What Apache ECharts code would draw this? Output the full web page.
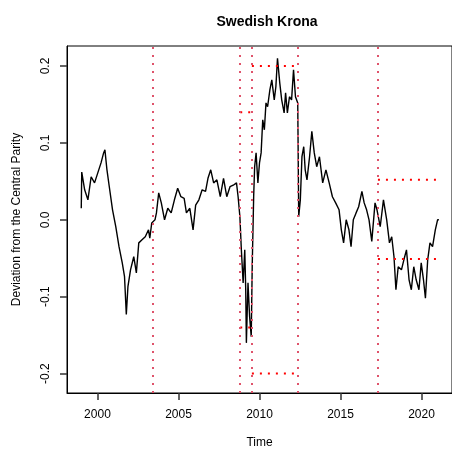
<!DOCTYPE html>
<html>
<head>
<meta charset="utf-8">
<script src="https://cdn.jsdelivr.net/npm/echarts@6/dist/echarts.min.js"></script>
<style>
* { padding: 0; margin: 0; }
body { background: #fff; }
</style>
</head>
<body>
<div id="chart" style="width: 452px; height: 455px"></div>
<script>
// deviation from central parity (decimal year, value)
var years = [
  1999.00, 1999.03, 1999.21, 1999.41, 1999.61, 1999.82, 2000.02, 2000.22, 2000.38, 2000.46,
  2000.58, 2000.73, 2000.93, 2001.13, 2001.33, 2001.53, 2001.67, 2001.78, 2001.88, 2002.04,
  2002.24, 2002.40, 2002.55, 2002.75, 2002.95, 2003.15, 2003.23, 2003.35, 2003.55, 2003.64,
  2003.78, 2003.94, 2004.14, 2004.34, 2004.55, 2004.75, 2004.95, 2005.15, 2005.35, 2005.49,
  2005.70, 2005.90, 2006.06, 2006.26, 2006.46, 2006.67, 2006.82, 2006.99, 2007.17, 2007.37,
  2007.58, 2007.78, 2007.98, 2008.18, 2008.38, 2008.58, 2008.68, 2008.79, 2008.88, 2008.99,
  2009.09, 2009.15, 2009.19, 2009.29, 2009.39, 2009.49, 2009.55, 2009.64, 2009.70, 2009.79,
  2009.90, 2010.00, 2010.10, 2010.20, 2010.30, 2010.40, 2010.50, 2010.64, 2010.76, 2010.91,
  2011.01, 2011.11, 2011.25, 2011.37, 2011.52, 2011.61, 2011.72, 2011.85, 2011.98, 2012.10,
  2012.22, 2012.36, 2012.42, 2012.52, 2012.62, 2012.73, 2012.82, 2012.93, 2013.09, 2013.23,
  2013.38, 2013.53, 2013.70, 2013.90, 2014.10, 2014.30, 2014.50, 2014.70, 2014.91, 2015.05,
  2015.19, 2015.35, 2015.52, 2015.65, 2015.79, 2015.96, 2016.12, 2016.32, 2016.46, 2016.61,
  2016.76, 2016.93, 2017.13, 2017.25, 2017.33, 2017.45, 2017.65, 2017.85, 2018.02, 2018.16,
  2018.30, 2018.42, 2018.56, 2018.76, 2018.91, 2019.07, 2019.23, 2019.37, 2019.52, 2019.67,
  2019.84, 2019.98, 2020.12, 2020.24, 2020.38, 2020.52, 2020.68, 2020.85, 2020.99, 2021.07
];
var deviation = [
  0.015, 0.062, 0.039, 0.026, 0.056, 0.048, 0.061, 0.074, 0.087, 0.091,
  0.066, 0.043, 0.013, -0.009, -0.035, -0.056, -0.074, -0.123, -0.087, -0.065,
  -0.048, -0.069, -0.030, -0.026, -0.022, -0.013, -0.024, -0.004, 0.000, 0.009,
  0.035, 0.022, 0.000, 0.015, 0.009, 0.026, 0.041, 0.030, 0.028, 0.009,
  0.015, -0.013, 0.019, 0.026, 0.039, 0.037, 0.054, 0.065, 0.048, 0.052,
  0.030, 0.054, 0.030, 0.043, 0.045, 0.048, 0.030, 0.004, -0.039, -0.082,
  -0.039, -0.091, -0.160, -0.082, -0.126, -0.152, -0.061, 0.030, 0.069, 0.087,
  0.048, 0.074, 0.087, 0.130, 0.117, 0.152, 0.147, 0.169, 0.182, 0.156,
  0.173, 0.210, 0.178, 0.156, 0.139, 0.165, 0.139, 0.160, 0.156, 0.195,
  0.160, 0.152, 0.004, 0.026, 0.082, 0.095, 0.065, 0.052, 0.082, 0.115,
  0.087, 0.069, 0.082, 0.048, 0.065, 0.048, 0.030, 0.022, 0.013, -0.013,
  -0.030, 0.000, -0.013, -0.035, 0.000, 0.009, 0.017, 0.037, 0.022, 0.013,
  0.000, -0.028, 0.022, 0.013, 0.013, -0.009, 0.026, 0.000, -0.030, -0.022,
  -0.048, -0.091, -0.061, -0.065, -0.052, -0.039, -0.078, -0.091, -0.061, -0.078,
  -0.091, -0.056, -0.078, -0.102, -0.052, -0.030, -0.035, -0.013, 0.000, 0.000
];
// regime breaks (vertical lines)
var breakYears = [2003.43, 2008.81, 2009.53, 2012.38, 2017.31];
// band segments: start, end, upper, lower
var bandStart = [2008.81, 2009.53, 2017.31];
var bandEnd = [2009.53, 2012.38, 2020.95];
var bandUpper = [0.14, 0.2, 0.052];
var bandLower = [-0.14, -0.2, -0.051];
var xTicks = [2000, 2005, 2010, 2015, 2020];
var yTicks = [-0.2, -0.1, 0, 0.1, 0.2];

var font = "Liberation Sans";
var chart = echarts.init(document.getElementById("chart"));

var series = [
  {
    name: "krona",
    type: "line",
    data: years.map(function (y, i) { return [y, deviation[i]]; }),
    showSymbol: false,
    lineStyle: { width: 1.4, color: "#000" },
    z: 3,
    markLine: {
      silent: true,
      symbol: "none",
      label: { show: false },
      lineStyle: { color: "#DF536B", width: 2, type: [2, 6], opacity: 1 },
      emphasis: { disabled: true },
      data: breakYears.map(function (x) { return { xAxis: x }; }),
    },
  },
];
bandStart.forEach(function (x0, i) {
  [bandUpper[i], bandLower[i]].forEach(function (lv) {
    series.push({
      type: "line",
      data: [[x0, lv], [bandEnd[i], lv]],
      showSymbol: false,
      silent: true,
      lineStyle: { color: "#FF0000", width: 2, type: [2, 6] },
      z: 4,
    });
  });
});

chart.setOption({
  animation: false,
  title: {
    text: "Swedish Krona",
    left: 262,
    top: 10,
    textAlign: "center",
    textStyle: { fontFamily: font, fontSize: 14, fontWeight: "bold", color: "#000" },
  },
  grid: {
    left: 67,
    top: 46,
    right: -5,
    bottom: 62,
    show: true,
    borderColor: "#000",
    borderWidth: 1,
  },
  xAxis: {
    type: "value",
    min: 1998.12,
    max: 2021.88,
    name: "Time",
    nameLocation: "middle",
    nameGap: 44,
    nameTextStyle: { fontFamily: font, fontSize: 12, color: "#000" },
    axisLine: { show: true, onZero: false, lineStyle: { color: "#000", width: 1 } },
    splitLine: { show: false },
    axisTick: { show: true, length: 7, lineStyle: { color: "#333", width: 1.5 }, customValues: xTicks },
    axisLabel: {
      fontFamily: font,
      fontSize: 12,
      color: "#000",
      margin: 16,
      customValues: xTicks,
      formatter: function (v) { return String(v); },
    },
  },
  yAxis: {
    type: "value",
    min: -0.2252,
    max: 0.226,
    name: "Deviation from the Central Parity",
    nameLocation: "middle",
    nameGap: 44,
    nameTextStyle: { fontFamily: font, fontSize: 12, color: "#000" },
    axisLine: { show: true, onZero: false, lineStyle: { color: "#000", width: 1 } },
    splitLine: { show: false },
    axisTick: { show: true, length: 7, lineStyle: { color: "#333", width: 1.5 }, customValues: yTicks },
    axisLabel: {
      fontFamily: font,
      fontSize: 12,
      color: "#000",
      margin: 15,
      rotate: 90,
      customValues: yTicks,
      formatter: function (v) { return v.toFixed(1); },
    },
  },
  series: series,
});
</script>
</body>
</html>
